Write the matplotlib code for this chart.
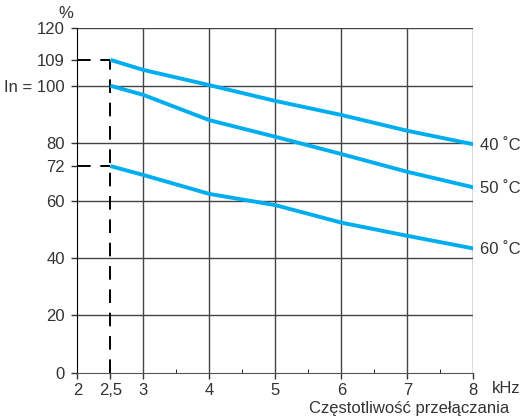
import matplotlib.pyplot as plt
import numpy as np

plt.rcParams['font.family'] = ['Liberation Sans', 'DejaVu Sans']

# dane
freq = [2.5, 3, 4, 5, 6, 7, 8]
t40 = [109, 105.5, 100.2, 94.7, 89.8, 84.3, 79.6]
t50 = [100, 96.8, 88.0, 82.2, 76.2, 70.0, 64.6]
t60 = [72, 68.9, 62.3, 58.4, 52.3, 47.7, 43.3]
series = [(t40, '40 ˚C'), (t50, '50 ˚C'), (t60, '60 ˚C')]

xticks = [2, 2.5, 3, 4, 5, 6, 7, 8]
xlabels = ['2', '2,5', '3', '4', '5', '6', '7', '8']
yticks = [0, 20, 40, 60, 72, 80, 100, 109, 120]
ylabels = ['0', '20', '40', '60', '72', '80', 'In = 100', '109', '120']

fs = 12
txt_c = '#333333'

fig = plt.figure(figsize=(5.21, 4.16), dpi=100)
ax = fig.add_axes([0.1484, 0.104, 0.76, 0.828])
ax.set_xlim(2, 8)
ax.set_ylim(0, 120)

grid_c = '#444444'
for x in [3, 4, 5, 6, 7, 8]:
    ax.axvline(x, color=grid_c, lw=1, zorder=1)
for y in [20, 40, 60, 80, 100, 120]:
    ax.axhline(y, color=grid_c, lw=1, zorder=1)

for s in ['top', 'right']:
    ax.spines[s].set_visible(False)
ax.spines['bottom'].set_color('#555555')
ax.spines['left'].set_color('black')

# linie przerywane dla 2,5 kHz
dash = dict(color='black', lw=1.4, dashes=(7, 5), zorder=2)
ax.plot([2.5, 2.5], [0, 109], **dash)
ax.plot([2, 2.5], [109, 109], **dash)
ax.plot([2, 2.5], [72, 72], **dash)

for vals, lab in series:
    ax.plot(freq, vals, color='#00AEEF', lw=2.8, solid_capstyle='butt', zorder=3)
    ax.text(8.1, vals[-1] - 0.3, lab, fontsize=fs, va='center', ha='left', color=txt_c)

ax.set_xticks(xticks)
ax.set_xticklabels(xlabels)
ax.set_xticks([3.5, 4.5, 5.5, 6.5, 7.5], minor=True)
ax.set_yticks(yticks)
ax.set_yticklabels(ylabels)
ax.tick_params(axis='both', labelsize=fs, colors=txt_c, length=4, width=1)
ax.tick_params(axis='y', pad=5)
ax.tick_params(axis='x', which='minor', direction='in', length=3)

ax.text(-0.03, 1.02, '%', transform=ax.transAxes, fontsize=fs, ha='center', va='bottom', color=txt_c)
ax.text(8.28, -5.5, 'kHz', fontsize=fs, ha='left', va='center', color=txt_c)
ax.text(1.09, -0.1025, 'Częstotliwość przełączania', transform=ax.transAxes,
        fontsize=fs, ha='right', va='center', color=txt_c)

fig.savefig('out.png', dpi=100)
